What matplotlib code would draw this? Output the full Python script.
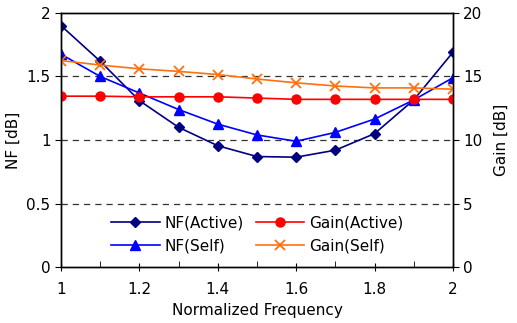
import matplotlib.pyplot as plt

plt.rcParams['font.family'] = ['DejaVu Sans']

freq = [1.0, 1.1, 1.2, 1.3, 1.4, 1.5, 1.6, 1.7, 1.8, 1.9, 2.0]
nf_active = [1.90, 1.62, 1.31, 1.10, 0.955, 0.87, 0.865, 0.92, 1.05, 1.315, 1.69]
nf_self = [1.675, 1.50, 1.37, 1.24, 1.125, 1.04, 0.99, 1.06, 1.165, 1.315, 1.49]
gain_active = [13.45, 13.45, 13.4, 13.4, 13.4, 13.3, 13.2, 13.2, 13.2, 13.2, 13.2]
gain_self = [16.25, 15.9, 15.6, 15.4, 15.15, 14.8, 14.5, 14.25, 14.1, 14.1, 14.0]

fig = plt.figure(figsize=(5.17, 3.23), dpi=100)
ax = fig.add_axes([0.118, 0.173, 0.758, 0.787])
ax2 = ax.twinx()

# dashed grid on the left axis
for g in [0.5, 1.0, 1.5]:
    ax.axhline(g, color='#333333', linestyle=(0, (5, 4)), linewidth=0.9, zorder=0)

l1, = ax.plot(freq, nf_active, color='#000080', marker='D', markersize=5.5,
              linewidth=1.2, label='NF(Active)')
l2, = ax.plot(freq, nf_self, color='#0000ff', marker='^', markersize=7,
              linewidth=1.2, label='NF(Self)')
l3, = ax2.plot(freq, gain_active, color='#ff0000', marker='o', markersize=6.5,
               linewidth=1.2, label='Gain(Active)')
l4, = ax2.plot(freq, gain_self, color='#ff7010', marker='x', markersize=7.5,
               markeredgewidth=1.3, linewidth=1.2, label='Gain(Self)')

ax.set_xlim(1, 2)
ax.set_ylim(0, 2)
ax2.set_ylim(0, 20)
ax.set_xticks([1, 1.2, 1.4, 1.6, 1.8, 2])
ax.set_xticklabels(['1', '1.2', '1.4', '1.6', '1.8', '2'])
ax.set_xticks([1.1, 1.3, 1.5, 1.7, 1.9], minor=True)
ax.set_yticks([0, 0.5, 1, 1.5, 2])
ax.set_yticklabels(['0', '0.5', '1', '1.5', '2'])
ax2.set_yticks([0, 5, 10, 15, 20])

ax.tick_params(axis='x', which='both', direction='inout', length=6, labelsize=11, pad=8)
ax.tick_params(axis='x', which='minor', direction='in', length=4)
ax.tick_params(axis='y', direction='out', length=4, labelsize=11)
ax2.tick_params(axis='y', direction='out', length=4, labelsize=11)

for a in (ax, ax2):
    for s in a.spines.values():
        s.set_linewidth(1.0)

ax.set_xlabel('Normalized Frequency', fontsize=11)
ax.set_ylabel('NF [dB]', fontsize=11, labelpad=4)
ax2.set_ylabel('Gain [dB]', fontsize=11, labelpad=8)

ax2.legend([l1, l2, l3, l4], ['NF(Active)', 'NF(Self)', 'Gain(Active)', 'Gain(Self)'],
           ncol=2, frameon=False, loc='lower center', bbox_to_anchor=(0.5, 0.0),
           fontsize=11, handlelength=3.2, columnspacing=0.8, handletextpad=0.3,
           labelspacing=0.5)

fig.savefig('out.png', dpi=100)
